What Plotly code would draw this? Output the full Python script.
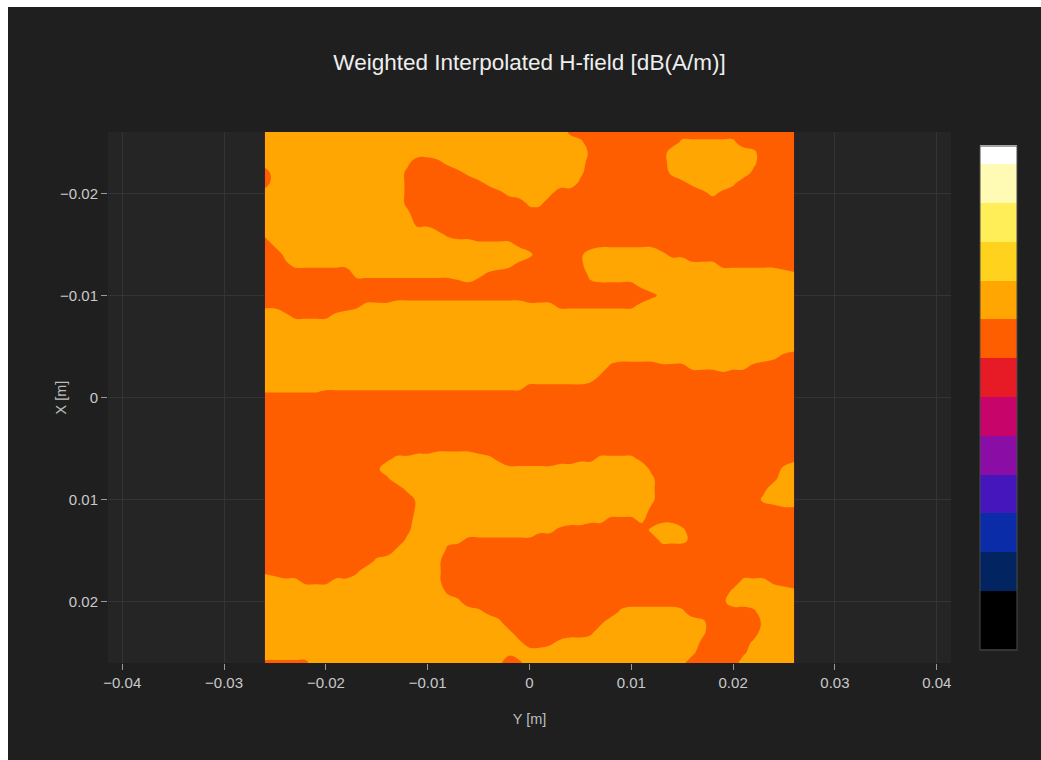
import numpy as np
import plotly.graph_objects as go

TITLE = "Weighted Interpolated H-field [dB(A/m)]"
X_AXIS_TITLE = "Y [m]"
Y_AXIS_TITLE = "X [m]"

# measurement grid (metres), 53 x 53 points, 1 mm pitch
GRID_START = -0.026
GRID_STEP = 0.001
GRID_N = 53

# field level codes:
# D = well inside the lower band, d = just inside it, o = just above the contour, O = well inside the upper band
LEVEL_VALUES = {"D": 7.5, "d": 7.8, "o": 8.2, "O": 8.5}

# run-length rows of the interpolated field, top row = X -0.026 m, left col = Y -0.026 m
FIELD_ROWS = [
    "30O 1d 22D",
    "31O 1o 9D 6o 6D",
    "32O 1d 7D 8O 1o 4D",
    "14O 1o 2D 1d 1o 13O 8D 8O 1o 4D",
    "1D 13O 1d 4D 1d 1o 10O 1o 8D 1o 7O 1d 4D",
    "1D 13O 1d 6D 1d 1o 8O 1d 9D 1d 1o 3O 1o 6D",
    "14O 1d 8D 1d 1o 3O 1o 14D 1d 1o 1d 7D",
    "14O 1d 11D 2o 25D",
    "14O 1o 38D",
    "15O 2d 36D",
    "1o 16O 1o 1d 34D",
    "1D 1o 19O 4o 1d 7D 6d 14D",
    "2D 1o 23O 1o 4D 1d 7O 1o 2d 11D",
    "2D 1d 6o 15O 1o 1d 5D 1d 10O 3o 6d 2D",
    "9D 10o 2O 1o 1d 9D 1o 19O 1o",
    "20D 1d 11D 5d 1o 15O",
    "38D 1d 1o 13O",
    "2d 7D 1d 3o 13O 3o 8d 1o 15O",
    "2O 1o 4d 1o 45O",
    "53O",
    "53O",
    "53O",
    "50O 1o 1d 1D",
    "34O 1d 4D 3d 3o 1O 2o 1d 4D",
    "33O 1d 19D",
    "6O 20o 6d 21D",
    "53D",
    "53D",
    "53D",
    "53D",
    "53D",
    "17D 4d 32D",
    "12D 1d 2o 7O 1o 1d 7D 2d 4o 1d 14D 1d",
    "11D 1d 12O 5o 9O 1d 12D 1o 1O",
    "12D 1d 25O 1o 11D 1d 2O",
    "14D 1o 23O 1o 10D 1d 3O",
    "15D 1o 22O 1o 10D 1o 3O",
    "15D 1o 22O 1d 12D 2d",
    "15D 17O 2o 3d 1o 1D 2d 12D",
    "14D 1d 12O 2o 1d 8D 1o 2O 1o 11D",
    "14D 1o 3O 2o 7d 12D 3o 1d 10D",
    "13D 1o 4O 1d 34D",
    "11D 1o 5O 1o 35D",
    "1d 8D 1d 7O 1o 35D",
    "2O 2o 3d 2o 8O 1o 29D 3o 1d 2D",
    "18O 1d 27D 1o 5O 1o",
    "19O 1o 25D 1d 7O",
    "21O 1o 1d 12D 1o 5O 1o 6D 1d 4O",
    "23O 1o 9D 1d 9O 1o 5D 1o 3O",
    "24O 1o 7D 1d 10O 1o 5D 4O",
    "25O 1o 2D 1d 1o 13O 1d 4D 1o 4O",
    "24O 1o 17O 1o 4D 1d 5O",
    "5d 18O 1o 1D 1d 15O 1o 5D 6O",
]

# contour levels (dB) and colour bands of the legend, bottom to top
CONTOUR_START = 1.0
CONTOUR_END = 12.0
CONTOUR_SIZE = 1.0
Z_MIN = -0.5
Z_MAX = 12.5
BAND_COLORS = [
    "#000000", "#022460", "#0a2ca8", "#4416bc", "#8a0ea6", "#c6046a",
    "#e61b26", "#ff5e00", "#ffa602", "#ffd21e", "#ffee58", "#fffab4", "#ffffff",
]

X_TICKS = [-0.04, -0.03, -0.02, -0.01, 0, 0.01, 0.02, 0.03, 0.04]
Y_TICKS = [-0.02, -0.01, 0, 0.01, 0.02]


def decode(row):
    out = []
    for run in row.split():
        n, code = int(run[:-1]), run[-1]
        out.extend([LEVEL_VALUES[code]] * n)
    return out


z = np.array([decode(r) for r in FIELD_ROWS])
coords = GRID_START + GRID_STEP * np.arange(GRID_N)

nb = len(BAND_COLORS) - 1
colorscale = [[k / nb, c] for k, c in enumerate(BAND_COLORS)]

fig = go.Figure(
    go.Contour(
        x=coords,
        y=coords,
        z=z,
        zmin=Z_MIN,
        zmax=Z_MAX,
        autocontour=False,
        contours=dict(start=CONTOUR_START, end=CONTOUR_END, size=CONTOUR_SIZE, coloring="fill"),
        line=dict(width=0, smoothing=1.3),
        colorscale=colorscale,
        colorbar=dict(
            thickness=37,
            lenmode="pixels",
            len=504,
            x=1.0225,
            xanchor="left",
            xpad=10,
            y=0.5,
            yanchor="middle",
            ypad=0,
            showticklabels=False,
            ticks="",
            outlinewidth=1,
            outlinecolor="#4a4a4a",
        ),
        hoverinfo="skip",
    )
)

axis_common = dict(
    showgrid=True,
    gridcolor="#343434",
    gridwidth=1,
    zeroline=False,
    showline=False,
    ticks="outside",
    ticklen=6,
    tickcolor="#9a9a9a",
    tickfont=dict(family="Arial", size=15, color="#c9c9c9"),
)

fig.update_layout(
    width=1033,
    height=753,
    margin=dict(l=100, r=90, t=125, b=97, autoexpand=False),
    paper_bgcolor="#1f1f1f",
    plot_bgcolor="#252525",
    font=dict(family="Arial", color="#c9c9c9"),
    title=dict(
        text=TITLE,
        x=0.5,
        xref="paper",
        xanchor="center",
        y=1 - 55 / 753,
        yref="container",
        yanchor="middle",
        font=dict(family="Arial", size=22.5, color="#eeeeee"),
    ),
    xaxis=dict(
        range=[-0.0414, 0.0414],
        tickvals=X_TICKS,
        title=dict(text=X_AXIS_TITLE, font=dict(family="Arial", size=14.5, color="#bdbdbd"), standoff=23),
        **axis_common,
    ),
    yaxis=dict(
        range=[0.026, -0.026],
        tickvals=Y_TICKS,
        **axis_common,
    ),
    annotations=[
        dict(
            text=Y_AXIS_TITLE,
            textangle=-90,
            xref="paper",
            yref="paper",
            x=-0.0569,
            y=0.5,
            xanchor="center",
            yanchor="middle",
            showarrow=False,
            font=dict(family="Arial", size=14.5, color="#bdbdbd"),
        )
    ],
)

fig.write_html(
    "out.html",
    post_script="document.body.style.margin='7px 0 0 8px';document.body.style.overflow='hidden';",
)
